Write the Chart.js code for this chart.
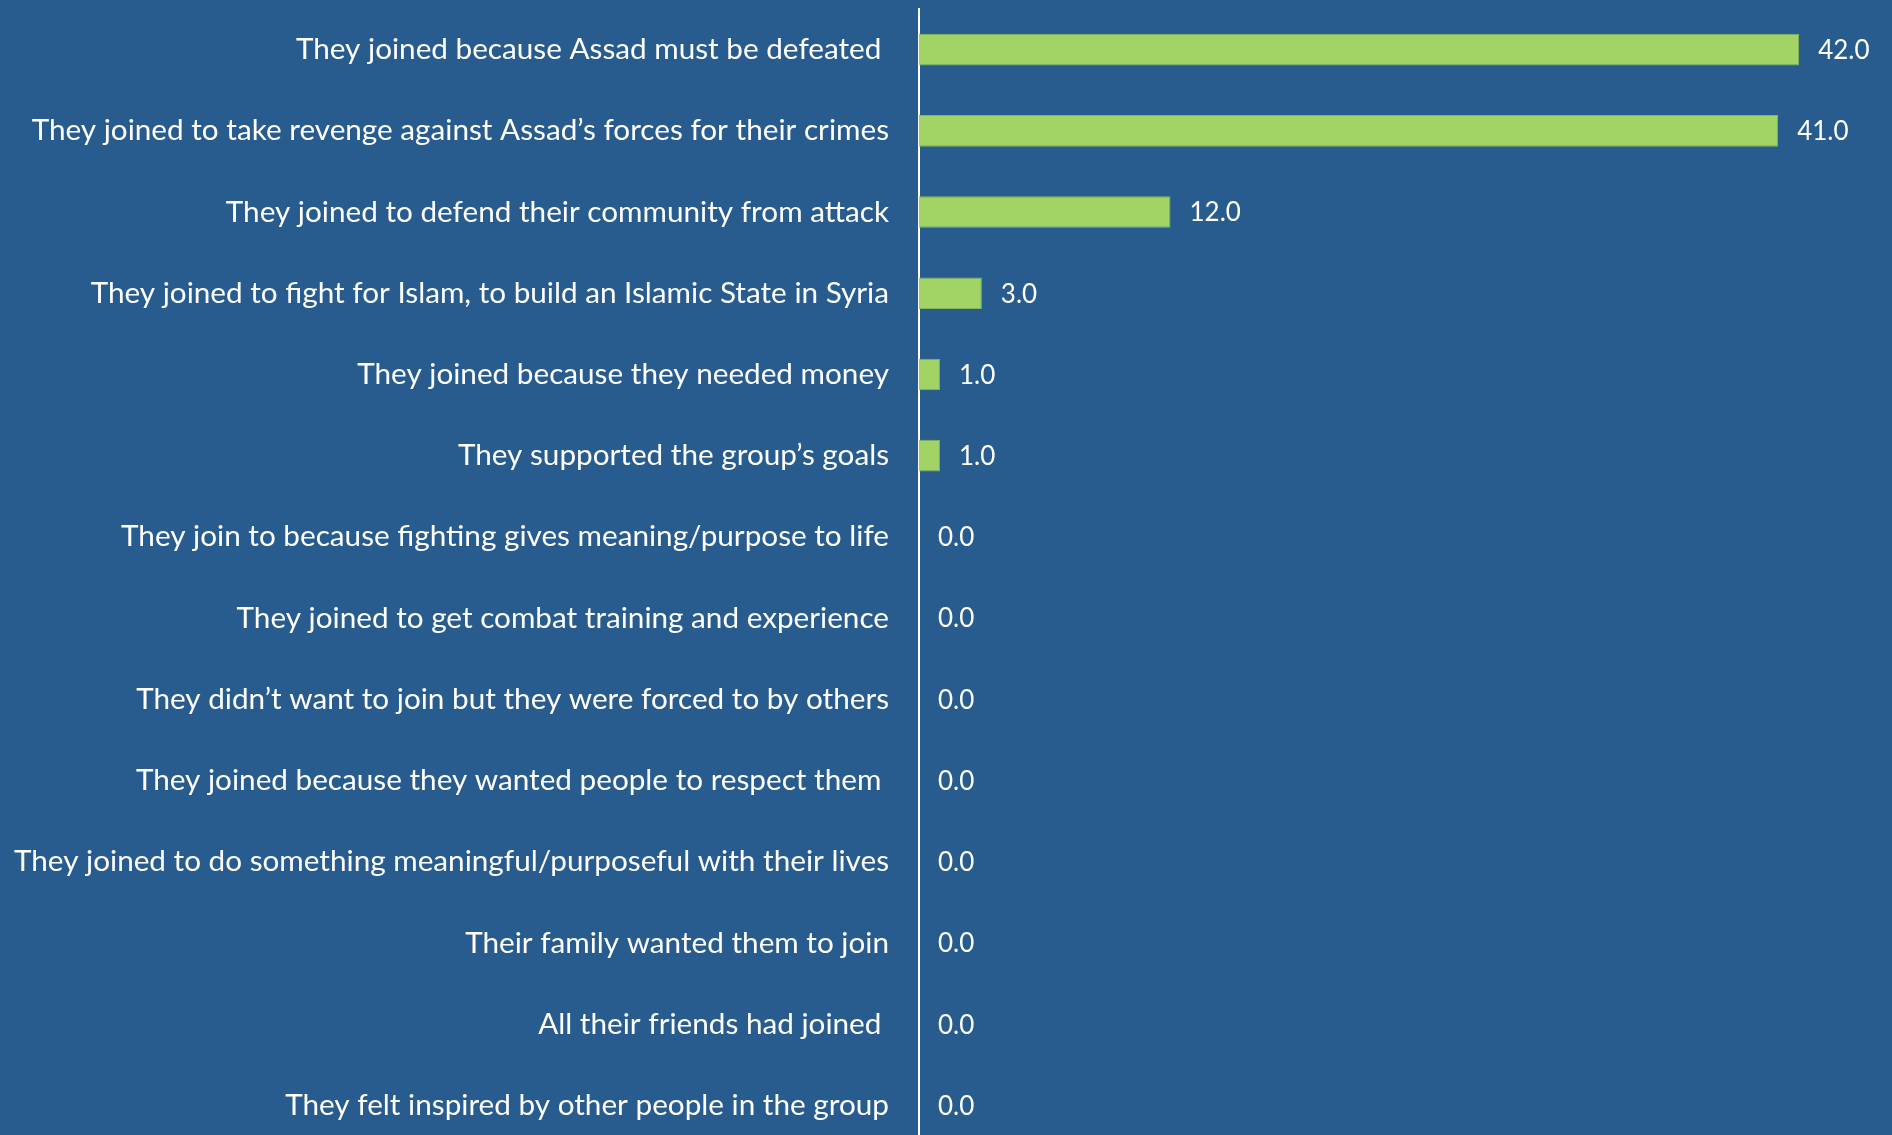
<!DOCTYPE html>
<html>
<head>
<meta charset="utf-8">
<script src="https://cdn.jsdelivr.net/npm/chart.js@4.4.0/dist/chart.umd.min.js"></script>
<style>
    html, body { margin: 0; padding: 0; background: #285C8F; overflow: hidden; }
    #reasonsChart { position: absolute; left: 0; top: 0; }
</style>
</head>
<body>
<canvas id="reasonsChart" width="1892" height="1146"></canvas>
<script>
const categories = [
    "They joined because Assad must be defeated ",
    "They joined to take revenge against Assad\u2019s forces for their crimes",
    "They joined to defend their community from attack",
    "They joined to fight for Islam, to build an Islamic State in Syria",
    "They joined because they needed money",
    "They supported the group\u2019s goals",
    "They join to because fighting gives meaning/purpose to life",
    "They joined to get combat training and experience",
    "They didn\u2019t want to join but they were forced to by others",
    "They joined because they wanted people to respect them ",
    "They joined to do something meaningful/purposeful with their lives",
    "Their family wanted them to join",
    "All their friends had joined ",
    "They felt inspired by other people in the group"
];
const values = [42, 41, 12, 3, 1, 1, 0, 0, 0, 0, 0, 0, 0, 0];

const fontFamily = "Lato, 'Open Sans', sans-serif";
const barColor = '#A1D465';
const barBorder = '#86B858';

// draw "42.0" etc. to the right of each bar
const valueLabels = {
    id: 'valueLabels',
    afterDatasetsDraw(chart) {
        const ctx = chart.ctx;
        const meta = chart.getDatasetMeta(0);
        ctx.save();
        ctx.font = '26px ' + fontFamily;
        ctx.fillStyle = '#FFFFFF';
        ctx.textAlign = 'left';
        ctx.textBaseline = 'middle';
        meta.data.forEach((bar, i) => {
            ctx.fillText(values[i].toFixed(1), bar.x + 19, bar.y + 1);
        });
        ctx.restore();
    }
};

new Chart(document.getElementById('reasonsChart'), {
    type: 'bar',
    data: {
        labels: categories,
        datasets: [{
            data: values,
            backgroundColor: barColor,
            borderColor: barBorder,
            borderWidth: 1,
            borderSkipped: 'start',
            barPercentage: 0.39,
            categoryPercentage: 1.0
        }]
    },
    options: {
        indexAxis: 'y',
        responsive: false,
        maintainAspectRatio: false,
        animation: false,
        layout: { padding: { top: 9, right: 30, bottom: 0, left: 0 } },
        plugins: {
            legend: { display: false },
            tooltip: { enabled: false }
        },
        scales: {
            x: {
                display: false,
                min: 0,
                max: 45
            },
            y: {
                afterFit(scale) {
                    // fixed axis position, and no extra vertical padding from the labels
                    scale.width = 919;
                    scale.paddingTop = 0;
                    scale.paddingBottom = 0;
                },
                grid: { display: false, drawTicks: false },
                border: { display: true, color: '#FFFFFF', width: 2 },
                ticks: {
                    color: '#FFFFFF',
                    padding: 30,
                    autoSkip: false,
                    font: { family: fontFamily, size: 29.7 }
                }
            }
        }
    },
    plugins: [valueLabels]
});
</script>
</body>
</html>
